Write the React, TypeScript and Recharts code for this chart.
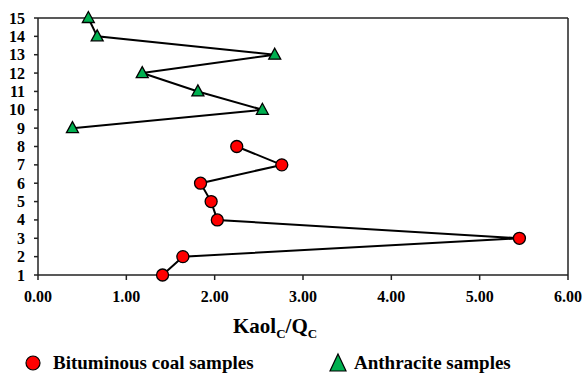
import React from 'react';
import { ScatterChart, Scatter, XAxis, YAxis, ReferenceLine, Legend, Label } from 'recharts';

const bituminousSample = [1, 2, 3, 4, 5, 6, 7, 8];
const bituminousRatio = [1.41, 1.64, 5.45, 2.03, 1.96, 1.84, 2.76, 2.25];
const anthraciteSample = [9, 10, 11, 12, 13, 14, 15];
const anthraciteRatio = [0.39, 2.54, 1.81, 1.18, 2.68, 0.67, 0.57];
const xTicks = [0, 1, 2, 3, 4, 5, 6];
const yTicks = [1, 2, 3, 4, 5, 6, 7, 8, 9, 10, 11, 12, 13, 14, 15];
const seriesNames = ['Bituminous coal samples', 'Anthracite samples'];

const bituminousData = bituminousSample.map((s, i) => ({ x: bituminousRatio[i], y: s }));
const anthraciteData = anthraciteSample.map((s, i) => ({ x: anthraciteRatio[i], y: s }));

const FONT = "'Liberation Serif', 'Times New Roman', Times, serif";
const RED = '#FF0000';
const GREEN = '#00B050';
const serifStyle = { fontFamily: FONT, fontWeight: 700 as const };

const CircleShape = (props: any) => {
  const { cx, cy } = props;
  return <circle cx={cx} cy={cy} r={6} fill={RED} stroke="#000" strokeWidth={1.3} />;
};

const TriangleShape = (props: any) => {
  const { cx, cy } = props;
  const pts = `${cx},${cy - 6.5} ${cx + 6},${cy + 4.5} ${cx - 6},${cy + 4.5}`;
  return <polygon points={pts} fill={GREEN} stroke="#000" strokeWidth={1.3} />;
};

const XTick = (props: any) => {
  const { x, y, payload } = props;
  return (
    <text x={x} y={y} dy={11.5} textAnchor="middle" fontSize={16} fill="#000" style={serifStyle}>
      {Number(payload.value).toFixed(2)}
    </text>
  );
};

const YTick = (props: any) => {
  const { x, y, payload } = props;
  return (
    <text x={x} y={y} dy={5.5} textAnchor="end" fontSize={16} fill="#000" style={serifStyle}>
      {payload.value}
    </text>
  );
};

const AxisTitle = (props: any) => {
  const vb = props.viewBox || { x: 38, y: 275, width: 530 };
  const x = vb.x + vb.width / 2 - 70;
  return (
    <text x={x} y={333} fontSize={21} fill="#000" style={serifStyle}>
      <tspan>Kaol</tspan>
      <tspan dy={5} fontSize={13}>C</tspan>
      <tspan dy={-5}>/Q</tspan>
      <tspan dy={5} fontSize={13}>C</tspan>
    </text>
  );
};

const LegendContent = () => (
  <svg width={584} height={30} style={{ display: 'block' }}>
    <circle cx={33} cy={18} r={7} fill={RED} stroke="#000" strokeWidth={1.2} />
    <text x={53} y={24} fontSize={19} fill="#000" style={serifStyle}>
      {seriesNames[0]}
    </text>
    <polygon points="338,9 346,26 330,26" fill={GREEN} stroke="#000" strokeWidth={1.2} />
    <text x={354} y={24} fontSize={19} fill="#000" style={serifStyle}>
      {seriesNames[1]}
    </text>
  </svg>
);

export default function App() {
  return (
    <div style={{ position: 'absolute', left: 0, top: 0, width: 584, height: 374, background: '#fff' }}>
      <ScatterChart width={584} height={374} margin={{ top: 18, right: 16, left: 0, bottom: 39 }}>
        <XAxis
          type="number"
          dataKey="x"
          domain={[0, 6]}
          ticks={xTicks}
          tick={XTick}
          tickSize={5}
          tickMargin={10}
          height={30}
          axisLine={{ stroke: '#222', strokeWidth: 1.5 }}
          tickLine={{ stroke: '#222', strokeWidth: 1.5 }}
        >
          <Label content={AxisTitle} />
        </XAxis>
        <YAxis
          type="number"
          dataKey="y"
          domain={[1, 15]}
          ticks={yTicks}
          interval={0}
          tick={YTick}
          tickSize={4}
          tickMargin={9}
          width={38}
          axisLine={{ stroke: '#222', strokeWidth: 1.5 }}
          tickLine={{ stroke: '#222', strokeWidth: 1.5 }}
        />
        <ReferenceLine y={15} stroke="#222" strokeWidth={1.5} />
        <ReferenceLine x={6} stroke="#222" strokeWidth={1.5} />
        <Legend
          verticalAlign="bottom"
          content={LegendContent}
          wrapperStyle={{ top: 345, left: 0, width: 584, height: 30 }}
        />
        <Scatter
          name={seriesNames[0]}
          data={bituminousData}
          line={{ stroke: '#000', strokeWidth: 2 }}
          shape={CircleShape}
          isAnimationActive={false}
        />
        <Scatter
          name={seriesNames[1]}
          data={anthraciteData}
          line={{ stroke: '#000', strokeWidth: 2 }}
          shape={TriangleShape}
          isAnimationActive={false}
        />
      </ScatterChart>
    </div>
  );
}
